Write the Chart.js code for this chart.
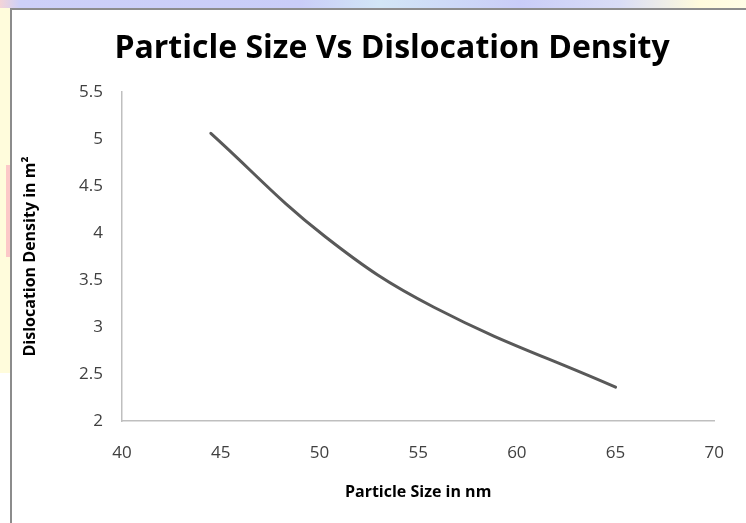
<!doctype html>
<html lang="en">
  <head>
    <meta charset="utf-8">
    <title>Particle Size Vs Dislocation Density</title>
    <style>
      * {
        margin: 0;
        padding: 0;
      }
      body {
        width: 746px;
        height: 523px;
        background: white;
        position: relative;
        overflow: hidden;
      }
      .topStrip {
        position: absolute;
        left: 0; top: 0;
        width: 746px; height: 8px;
        background: linear-gradient(to right, #f3d4d8 0px, #cdd0f8 20px, #c9cdf8 300px, #d2e6f6 380px, #c9cdf8 520px, #d9ddf6 620px, #fffbdc 700px, #fffde6 746px);
      }
      .leftStrip {
        position: absolute;
        left: 0; top: 8px;
        width: 10px; height: 365px;
        background: #fffcdc;
      }
      .pinkPatch {
        position: absolute;
        left: 6px; top: 165px;
        width: 4px; height: 92px;
        background: #fcc8c8;
      }
      .frame {
        position: absolute;
        left: 10px; top: 8px;
        width: 736px; height: 515px;
        border-left: 2px solid #8c8c8c;
        border-top: 2px solid #8c8c8c;
        box-sizing: border-box;
        background: white;
      }
      canvas {
        position: absolute;
        left: 12px; top: 10px;
      }
    </style>
  </head>
  <body>
    <div class="topStrip"></div>
    <div class="leftStrip"></div>
    <div class="pinkPatch"></div>
    <div class="frame"></div>
    <canvas id="myChart" width="734" height="513"></canvas>
    <script src="https://cdn.jsdelivr.net/npm/chart.js/dist/chart.umd.min.js"></script>
    <script>
    // data (smoothed line through these points)
    const particleSize = [44.5, 50.3, 55.8, 65];
    const dislocationDensity = [5.06, 3.96, 3.21, 2.36];
    const xTicks = [40, 45, 50, 55, 60, 65, 70];
    const yTicks = [2, 2.5, 3, 3.5, 4, 4.5, 5, 5.5];

    const points = particleSize.map((x, i) => ({x: x, y: dislocationDensity[i]}));

    const tickFont = {family: 'Open Sans', size: 17};
    const titleFont = {family: 'Open Sans', size: 16, weight: 'bold'};

    const config = {
      type: 'scatter',
      data: {
        datasets: [{
          data: points,
          showLine: true,
          borderColor: '#595959',
          borderWidth: 3,
          pointRadius: 0,
          tension: 0.4,
          borderCapStyle: 'round'
        }]
      },
      options: {
        responsive: false,
        animation: false,
        // left padding moves the title centre to where it sits in the picture
        layout: {padding: {left: 26, top: 0, right: 0, bottom: 0}},
        plugins: {
          legend: {display: false},
          tooltip: {enabled: false},
          title: {
            display: true,
            text: 'Particle Size Vs Dislocation Density',
            color: '#000',
            font: {family: 'Open Sans', size: 32, weight: 'bold'},
            padding: {top: 20, bottom: 23.6}
          }
        },
        scales: {
          x: {
            type: 'linear',
            min: 40,
            max: 70,
            afterBuildTicks: (s) => { s.ticks = xTicks.map(v => ({value: v})); },
            afterFit: (s) => { s.height = 102; },
            grid: {display: false, drawTicks: false},
            border: {display: true, color: '#bfbfbf', width: 1.5},
            ticks: {font: tickFont, color: '#404040', padding: 22, maxRotation: 0},
            title: {
              display: true,
              text: 'Particle Size in nm',
              color: '#000',
              font: titleFont,
              padding: {top: 0, bottom: 21.4}
            }
          },
          y: {
            type: 'linear',
            min: 2,
            max: 5.5,
            afterBuildTicks: (s) => { s.ticks = yTicks.map(v => ({value: v})); },
            afterFit: (s) => { s.width = 84; },
            grid: {display: false, drawTicks: false},
            border: {display: true, color: '#bfbfbf', width: 1.5},
            ticks: {
              font: tickFont,
              color: '#404040',
              padding: 19,
              callback: (v) => String(v)
            },
            title: {
              display: true,
              text: 'Dislocation Density in m\u00b2',
              color: '#000',
              font: titleFont,
              padding: {top: -17.6, bottom: 0}
            }
          }
        }
      }
    };

    new Chart(document.getElementById('myChart'), config);
    </script>
  </body>
</html>
